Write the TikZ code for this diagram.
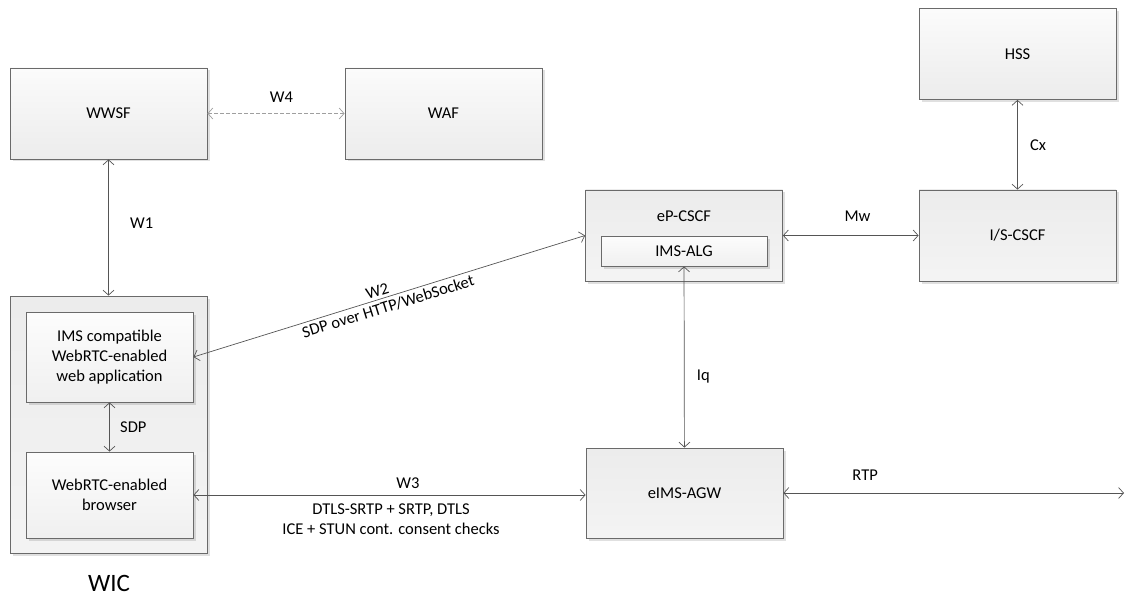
\documentclass[tikz,border=0pt]{standalone}
\usepackage{fontspec}
\setmainfont{Carlito}
\usetikzlibrary{arrows.meta,shadows}

\definecolor{linegray}{HTML}{555555}
\definecolor{framegray}{HTML}{6A6A6A}

\newcommand*{\boxw}{197pt}
\newcommand*{\boxh}{91pt}

\begin{document}
\begin{tikzpicture}
[
	x=1pt, y=-1pt,
	>={Straight Barb[length=5pt,width=11pt]},
	every node/.style={font=\fontsize{16.5}{20}\selectfont},
	block/.style={rectangle,draw=framegray,line width=0.8pt,align=center,
		top color=gray!3,bottom color=gray!15,
		minimum width=\boxw,minimum height=\boxh,
		drop shadow={shadow xshift=2.5pt,shadow yshift=-2.5pt,fill=black,opacity=0.12}},
	darkbox/.style={top color=gray!15,bottom color=gray!9},
	innerbox/.style={block,top color=gray!2,bottom color=gray!12},
	link/.style={<->,draw=linegray,line width=0.7pt},
	weblink/.style={link,draw=gray!75,dash pattern=on 4pt off 2pt}
]

	% fixed picture size
	\useasboundingbox (0,0) rectangle (1128,599);

	% web side
	\node[block] (wwsf) at (108.5,113.5) {WWSF};
	\node[block] (waf) at (443.5,113.5) {WAF};

	% WIC with its two parts
	\node[block,darkbox,minimum height=257pt] (wic) at (108.5,424.5) {};
	\node[innerbox,minimum width=167pt,minimum height=90pt] (webapp) at (109.5,357)
		{IMS compatible\\WebRTC-enabled\\web application};
	\node[innerbox,minimum width=167pt,minimum height=86pt] (browser) at (109.5,495)
		{WebRTC-enabled\\browser};
	\node[font=\fontsize{25}{30}\selectfont] (wiclabel) at (109,583) {WIC};

	% IMS side
	\node[block,darkbox] (epcscf) at (684,235.5) {};
	\node (epcscflabel) at (684,216) {eP-CSCF};
	\node[innerbox,minimum width=166pt,minimum height=30pt] (imsalg) at (684,251) {IMS-ALG};
	\node[block,darkbox] (iscscf) at (1017.5,235.5) {I/S-CSCF};
	\node[block] (hss) at (1017.5,54) {HSS};
	\node[block,darkbox,minimum height=90pt] (agw) at (684.5,493) {eIMS-AGW};
	\coordinate (rtpend) at (1124,493);

	% reference points
	\draw[weblink] (wwsf) -- node[above=7pt,pos=0.54] (w4) {W4} (waf);
	\draw[link] (wwsf) -- node[right=18pt,pos=0.47] (w1) {W1} (wic);
	\draw[link] (webapp) -- node[right=7pt] (sdp) {SDP} (browser);
	\draw[link] (webapp.east) --
		node[sloped,above=1pt,pos=0.476,inner sep=2pt] (w2) {W2}
		node[sloped,below=1pt,pos=0.49,inner sep=2pt] (w2sdp) {SDP over HTTP/WebSocket}
		(epcscf.west);
	\draw[link] (browser.east) --
		node[above=3pt,pos=0.547] (w3) {W3}
		node[below=5pt,pos=0.504,align=center] (w3proto)
			{DTLS-SRTP + SRTP, DTLS\\ICE + STUN cont. consent checks}
		(browser.east -| agw.west);
	\draw[link] (epcscf) -- node[above=10pt,pos=0.55] (mw) {Mw} (iscscf);
	\draw[link] (hss) -- node[right=9pt] (cx) {Cx} (iscscf);
	\draw[link] (imsalg) -- node[right=9pt,pos=0.61] (iq) {Iq} (agw);
	\draw[link] (agw.east) -- node[above=9pt,pos=0.24] (rtp) {RTP} (rtpend);

\end{tikzpicture}
\end{document}
